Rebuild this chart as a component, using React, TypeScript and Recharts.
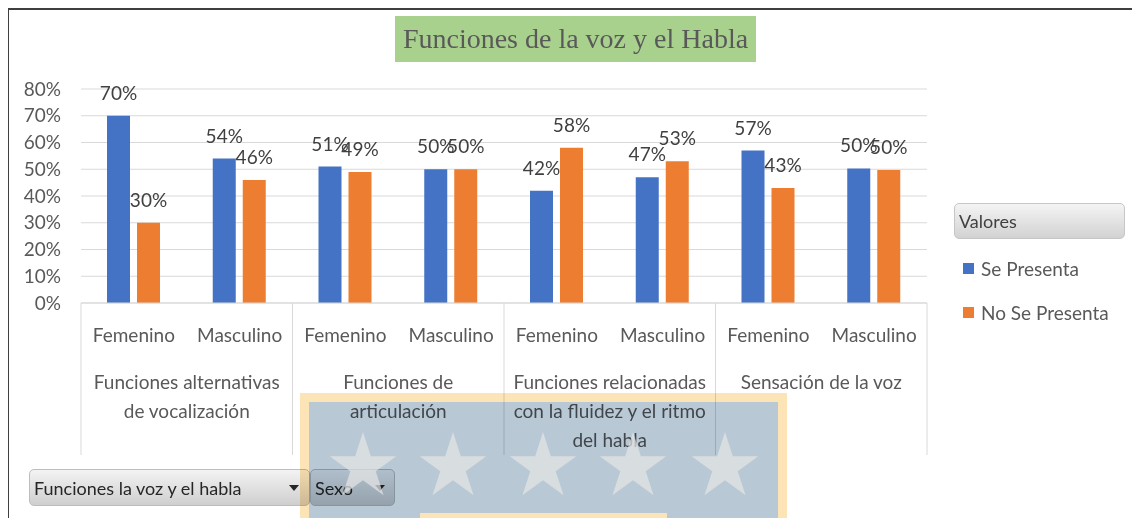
import React from "react";
import {
  BarChart,
  Bar,
  XAxis,
  YAxis,
  CartesianGrid,
  LabelList,
} from "recharts";

// categories on the inner axis level
const sexo = [
  "Femenino", "Masculino",
  "Femenino", "Masculino",
  "Femenino", "Masculino",
  "Femenino", "Masculino",
];

// outer axis level, one entry per pair of bars (already split into lines)
const grupos = [
  ["Funciones alternativas", "de vocalización"],
  ["Funciones de", "articulación"],
  ["Funciones relacionadas", "con la fluidez y el ritmo", "del habla"],
  ["Sensación de la voz"],
];

const sePresenta = [70, 54, 51, 50, 42, 47, 57, 50.3];
const noSePresenta = [30, 46, 49, 50, 58, 53, 43, 49.7];

const yTicks = [0, 10, 20, 30, 40, 50, 60, 70, 80];

const series = [
  { key: "se", name: "Se Presenta", color: "#4472c4" },
  { key: "no", name: "No Se Presenta", color: "#ed7d31" },
];

const data = sexo.map((s, i) => ({
  sexo: s,
  se: sePresenta[i],
  no: noSePresenta[i],
}));

const W = 1132;
const H = 510;
const PLOT_LEFT = 73;
const PLOT_RIGHT = 919;
const BAND = (PLOT_RIGHT - PLOT_LEFT) / sexo.length;

const FONT = "Lato, 'Open Sans', sans-serif";
const GREY = "#595959";
const LINE = "#d9d9d9";

function CategoryTick(props: any) {
  const { x, y, index } = props;
  const isGroupStart = index % 2 === 0;
  const isLast = index === sexo.length - 1;
  const grp = grupos[Math.floor(index / 2)];
  return (
    <g>
      <text
        x={x}
        y={y + 39}
        textAnchor="middle"
        fill={GREY}
        fontSize={19}
        fontFamily={FONT}
      >
        {sexo[index]}
      </text>
      {isGroupStart && (
        <>
          <line
            x1={x - BAND / 2}
            x2={x - BAND / 2}
            y1={y}
            y2={y + 152}
            stroke={LINE}
          />
          {grp.map((ln, k) => (
            <text
              key={k}
              x={x + BAND / 2}
              y={y + 86 + k * 29}
              textAnchor="middle"
              fill={GREY}
              fontSize={19}
              fontFamily={FONT}
            >
              {ln}
            </text>
          ))}
        </>
      )}
      {isLast && (
        <line
          x1={x + BAND / 2}
          x2={x + BAND / 2}
          y1={y}
          y2={y + 152}
          stroke={LINE}
        />
      )}
    </g>
  );
}

function Star({ cx, cy, r }: { cx: number; cy: number; r: number }) {
  const pts: string[] = [];
  for (let i = 0; i < 10; i++) {
    const rad = i % 2 === 0 ? r : r * 0.382;
    const a = -Math.PI / 2 + (i * Math.PI) / 5;
    pts.push(`${cx + rad * Math.cos(a)},${cy + rad * Math.sin(a)}`);
  }
  return <polygon points={pts.join(" ")} fill="#e4e4e4" fillOpacity={0.72} />;
}

const dropStyle: React.CSSProperties = {
  position: "absolute",
  top: 461,
  height: 37,
  boxSizing: "border-box",
  border: "1px solid #bdbdbd",
  borderRadius: 5,
  background: "linear-gradient(#f3f3f3, #cfcfcf)",
  fontFamily: FONT,
  fontSize: 18,
  color: "#262626",
  display: "flex",
  alignItems: "center",
  paddingLeft: 4,
};

function Arrow({ left }: { left: number }) {
  return (
    <div
      style={{
        position: "absolute",
        left,
        top: 15,
        width: 0,
        height: 0,
        borderLeft: "5px solid transparent",
        borderRight: "5px solid transparent",
        borderTop: "6px solid #262626",
      }}
    />
  );
}

export default function App() {
  return (
    <div
      style={{
        position: "relative",
        width: W,
        height: H,
        overflow: "hidden",
        background: "#fff",
        isolation: "isolate",
      }}
    >
      {/* frame */}
      <div style={{ position: "absolute", left: 0, top: 0, width: W, height: 2, background: "#3f3f3f" }} />
      <div style={{ position: "absolute", left: -1, top: 0, width: 2, height: H, background: "#3f3f3f" }} />

      <BarChart
        width={W}
        height={H}
        data={data}
        margin={{ top: 81, right: W - PLOT_RIGHT, bottom: 0, left: 0 }}
        barSize={23}
        barGap={7}
      >
        <CartesianGrid vertical={false} stroke={LINE} />
        <XAxis
          dataKey="sexo"
          height={H - 295}
          axisLine={{ stroke: LINE }}
          tickLine={false}
          tickSize={0}
          tickMargin={0}
          interval={0}
          tick={<CategoryTick />}
        />
        <YAxis
          width={PLOT_LEFT}
          domain={[0, 80]}
          ticks={yTicks}
          interval={0}
          axisLine={false}
          tickLine={false}
          tickSize={0}
          tickMargin={20}
          tickFormatter={(v: number) => `${v}%`}
          tick={{ fill: GREY, fontSize: 19, fontFamily: FONT }}
        />
        {series.map((s) => (
          <Bar
            key={s.key}
            dataKey={s.key}
            name={s.name}
            fill={s.color}
            isAnimationActive={false}
          >
            <LabelList
              dataKey={s.key}
              position="top"
              offset={16}
              fill="#404040"
              fontSize={19}
              fontFamily={FONT}
              formatter={(v: any) => `${Math.round(Number(v))}%`}
            />
          </Bar>
        ))}
      </BarChart>

      {/* title */}
      <div
        style={{
          position: "absolute",
          left: 387,
          top: 8,
          width: 361,
          height: 46,
          background: "#a9d18e",
          color: GREY,
          fontFamily: "'Liberation Serif', 'DejaVu Serif', serif",
          fontSize: 28,
          lineHeight: "46px",
          textAlign: "center",
          whiteSpace: "nowrap",
        }}
      >
        Funciones de la voz y el Habla
      </div>

      {/* legend */}
      <div style={{ position: "absolute", left: 946, top: 195, fontFamily: FONT }}>
        <div
          style={{
            width: 171,
            height: 36,
            boxSizing: "border-box",
            border: "1px solid #c6c6c6",
            borderRadius: 5,
            background: "linear-gradient(#f4f4f4, #d2d2d2)",
            color: "#404040",
            fontSize: 18,
            lineHeight: "34px",
            paddingLeft: 4,
          }}
        >
          Valores
        </div>
        {series.map((s, i) => (
          <div
            key={s.key}
            style={{
              position: "absolute",
              left: 9,
              top: 54 + i * 44,
              display: "flex",
              alignItems: "center",
              whiteSpace: "nowrap",
              color: GREY,
              fontSize: 19,
            }}
          >
            <span style={{ width: 11, height: 11, background: s.color, marginRight: 7 }} />
            {s.name}
          </div>
        ))}
      </div>

      {/* pivot field buttons */}
      <div style={{ ...dropStyle, left: 21, width: 281 }}>
        Funciones la voz y el habla
        <Arrow left={259} />
      </div>
      <div style={{ ...dropStyle, left: 302, width: 85 }}>
        Sexo
        <Arrow left={64} />
      </div>

      {/* watermark */}
      <div
        style={{
          position: "absolute",
          left: 292,
          top: 385,
          width: 487,
          height: 150,
          boxSizing: "border-box",
          border: "9px solid #fde4b6",
          background: "#b8c8d5",
          backgroundClip: "padding-box",
          mixBlendMode: "multiply",
        }}
      >
        <div
          style={{
            position: "absolute",
            left: 111,
            top: 111,
            width: 247,
            height: 40,
            background: "#fde4b6",
          }}
        />
      </div>
      <svg
        width={487}
        height={150}
        style={{ position: "absolute", left: 292, top: 385 }}
      >
        {[63, 153, 243, 333, 425].map((cx) => (
          <Star key={cx} cx={cx} cy={74} r={35} />
        ))}
      </svg>
    </div>
  );
}
